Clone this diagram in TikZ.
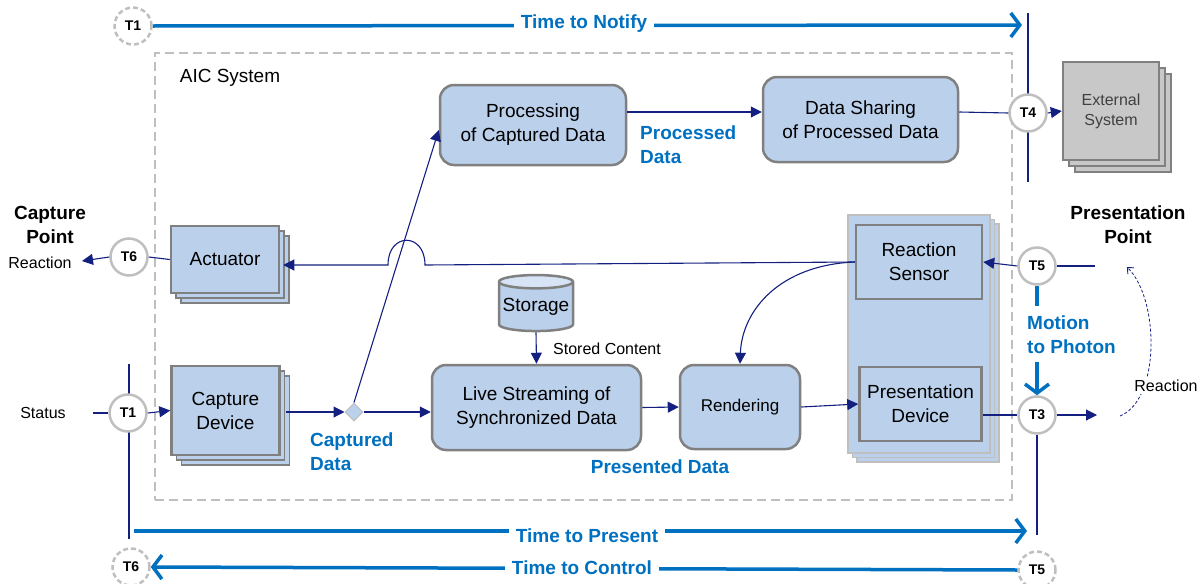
\documentclass[tikz,border=0pt]{standalone}
\usepackage{fontspec}
\setmainfont{Liberation Sans}
\usetikzlibrary{arrows.meta,shapes.geometric,shadows,calc}
\definecolor{lblue}{RGB}{187,208,235}
\definecolor{lbluetop}{RGB}{214,228,245}
\definecolor{bgrey}{RGB}{128,128,128}
\definecolor{lgrey}{RGB}{191,191,191}
\definecolor{navyc}{RGB}{20,32,128}
\definecolor{tblue}{RGB}{0,112,192}
\definecolor{extgrey}{RGB}{200,200,200}
\definecolor{exttext}{RGB}{64,64,64}
\tikzset{
  boxtext/.style={font=\fontsize{19}{24}\selectfont, align=center},
  rbox/.style={boxtext, draw=bgrey, fill=lblue, line width=2.5pt, rounded corners=14pt, inner sep=0pt},
  sqbox/.style={boxtext, draw=bgrey, fill=lblue, line width=2.5pt, inner sep=0pt},
  stackbox/.style={sqbox, double copy shadow={shadow xshift=5pt, shadow yshift=-5pt, draw=bgrey, fill=lblue, line width=1.8pt}},
  tc/.style={circle, draw=lgrey, fill=white, line width=2.5pt, minimum size=37pt, inner sep=0pt, font=\fontsize{14}{16}\selectfont\bfseries},
  tcd/.style={tc, dash pattern=on 5pt off 3pt},
  conn/.style={draw=navyc, line width=1.1pt},
  arr/.style={conn, -{Triangle[length=11pt,width=11pt]}},
  timeline/.style={draw=tblue, line width=3.5pt},
  timearr/.style={timeline, -{Straight Barb[length=9pt,width=24pt,line width=3.5pt]}},
  bluelbl/.style={text=tblue, font=\fontsize{19}{24}\selectfont\bfseries, align=left, inner sep=0pt},
  smalltext/.style={font=\fontsize{16}{19}\selectfont, inner sep=0pt},
  boldlbl/.style={font=\fontsize{19}{24}\selectfont\bfseries, align=center, inner sep=0pt},
  timetext/.style={text=tblue, font=\fontsize{19}{24}\selectfont\bfseries, fill=white, inner xsep=7pt, inner ysep=2pt},
}
\begin{document}
\begin{tikzpicture}[x=1pt,y=-1pt]
\useasboundingbox (0,0) rectangle (1203,584);
% AIC container
\node[draw=lgrey, line width=2.5pt, dash pattern=on 9pt off 5pt, minimum width=857pt, minimum height=447pt, inner sep=0pt] (aic) at (583.5,276.5) {};
\node[font=\fontsize{19}{24}\selectfont, inner sep=0pt] (aiclbl) at (230,78) {AIC System};
% free coordinates
\coordinate (v4a) at (1028,13);
\coordinate (v4b) at (1028,182);
\coordinate (v1a) at (129,364);
\coordinate (v1b) at (129,539);
\coordinate (v3b) at (1035,535);
\draw[conn] (v4a) -- (v4b);
\draw[conn] (v1a) -- (v1b);
% boxes
\node[rbox, minimum width=186pt, minimum height=80pt] (proc) at (533,125) {Processing\\of Captured Data};
\node[rbox, minimum width=195pt, minimum height=85pt] (share) at (860.5,119.5) {Data Sharing\\of Processed Data};
\node[sqbox, draw=bgrey, fill=extgrey, minimum width=96pt, minimum height=98pt, font=\fontsize{16}{20}\selectfont, text=exttext,
  double copy shadow={shadow xshift=6pt, shadow yshift=-6pt, draw=bgrey, fill=extgrey, line width=1.8pt}] (ext) at (1111,111) {External\\System};
\node[stackbox, minimum width=108pt, minimum height=67pt] (act) at (225,259.5) {Actuator};
\node[stackbox, minimum width=108pt, minimum height=89pt] (cap) at (225.5,410.5) {Capture\\Device};
\node[rbox, minimum width=209pt, minimum height=85pt] (live) at (536.5,407.5) {Live Streaming of\\Synchronized Data};
\node[rbox, minimum width=120pt, minimum height=84pt, font=\fontsize{17}{20}\selectfont] (rend) at (740,407) {Rendering};
\node[draw=lgrey, fill=lblue, line width=2.5pt, minimum width=142pt, minimum height=238pt, inner sep=0pt,
  double copy shadow={shadow xshift=4.5pt, shadow yshift=-4.5pt, draw=lgrey, fill=lblue, line width=1.8pt}] (panel) at (919,334) {};
\node[sqbox, minimum width=126pt, minimum height=74pt] (rs) at (919,262) {Reaction\\Sensor};
\node[sqbox, minimum width=122pt, minimum height=74pt] (pd) at (920.5,404) {Presentation\\Device};
\node[cylinder, shape border rotate=90, aspect=0.2, draw=bgrey, line width=2.5pt, cylinder uses custom fill,
  cylinder body fill=lblue, cylinder end fill=lbluetop, minimum width=74pt, minimum height=56pt, inner sep=0pt, boxtext] (storage) at (536,307) {Storage};
\node[diamond, draw=lgrey, fill=lblue, line width=1pt, minimum size=18pt, inner sep=0pt] (dia) at (354,412) {};
% circles
\node[tcd] (t1top) at (133,26) {T1};
\node[tc] (t4) at (1028,113) {T4};
\node[tc] (t6l) at (129,257) {T6};
\node[tc] (t1) at (128,413) {T1};
\node[tc] (t5r) at (1037,266) {T5};
\node[tc] (t3) at (1037,415) {T3};
\node[tcd] (t6b) at (131,567) {T6};
\node[tcd] (t5b) at (1037,570) {T5};
% coordinates for free ends
\coordinate (notifyE) at (1022,25);
\coordinate (presS) at (134,531);
\coordinate (presE) at (1027,531);
\coordinate (reactL) at (82,261);
\coordinate (statusR) at (93,413);
\coordinate (ppE) at (1095,266);
\coordinate (outE) at (1097,415);
\coordinate (mtp1) at (1037,306);
\coordinate (mtp2) at (1037,362);
\coordinate (rc1) at (1120,416);
\coordinate (rc2) at (1127,267);
\coordinate (jR) at (425,265);
\coordinate (jL) at (388,265);
% connectors
\draw[timearr] (t1top.east) -- (notifyE);
\draw[timearr] (presS) -- (presE);
\draw[timearr] (t5b.west) -- (t6b.east);
\draw[arr] (t6l.west) -- (reactL);
\draw[conn] (act.west) -- (t6l.east);
\draw[conn] (statusR) -- (t1.west);
\draw[arr] (t1.east) -- (cap.west);
\draw[arr] ([xshift=5pt]cap.east |- dia.west) -- (dia.west);
\draw[arr] (dia.east) -- (live.west |- dia.east);
\draw[arr] (dia.north) -- ([yshift=-5pt]proc.west);
\draw[arr] ([yshift=13pt]proc.east) -- ([yshift=7.5pt]share.west);
\draw[conn] ([yshift=7.5pt]share.east) -- (t4.west);
\draw[arr] (t4.east) -- (ext.west);
\draw[arr] (storage.south) -- (live.north);
\draw[arr] (live.east) -- (rend.west);
\draw[arr] (rend.east) -- (pd.west);
\draw[arr] (rs.west) .. controls (780,265) and (742,310) .. (rend.north);
\draw[arr] (rs.west) -- (jR) .. controls (425,232) and (388,232) .. (jL) -- ([xshift=3pt]act.east |- jL);
\draw[arr] (t5r.west) -- (rs.east);
\draw[conn] (t5r.east) -- (ppE);
\draw[conn] (pd.east |- t3.west) -- (t3.west);
\draw[arr] (t3.east) -- (outE);
\draw[conn] (t3.south) -- (t3.south |- v3b);
\draw[timeline] (t5r.south) -- (mtp1);
\draw[timearr] (mtp2) -- (t3.north);
\draw[conn, line width=0.8pt, dash pattern=on 3pt off 2pt, -{Straight Barb[length=5pt,width=9pt,line width=0.9pt]}] (rc1) .. controls (1160,400) and (1160,300) .. (rc2);
% labels
\node[timetext] (tnotify) at (584,24) {Time to Notify};
\node[timetext] (tpresent) at (587,536) {Time to Present};
\node[timetext] (tcontrol) at (582,568) {Time to Control};
\node[boldlbl] (cpt) at (50,225) {Capture\\Point};
\node[smalltext] (reactlbl) at (40,263) {Reaction};
\node[smalltext] (statuslbl) at (43,413) {Status};
\node[bluelbl, anchor=west] (procdata) at (640,145) {Processed\\Data};
\node[bluelbl, anchor=west] (capdata) at (310,452) {Captured\\Data};
\node[bluelbl] (presdata) at (660,467) {Presented Data};
\node[smalltext, anchor=west] (stored) at (553,349) {Stored Content};
\node[boldlbl] (ppt) at (1128,225) {Presentation\\Point};
\node[bluelbl, anchor=west] (mtp) at (1027,335) {Motion\\to Photon};
\node[smalltext, fill=white, inner sep=2pt] (reactr) at (1166,386) {Reaction};
\end{tikzpicture}
\end{document}
